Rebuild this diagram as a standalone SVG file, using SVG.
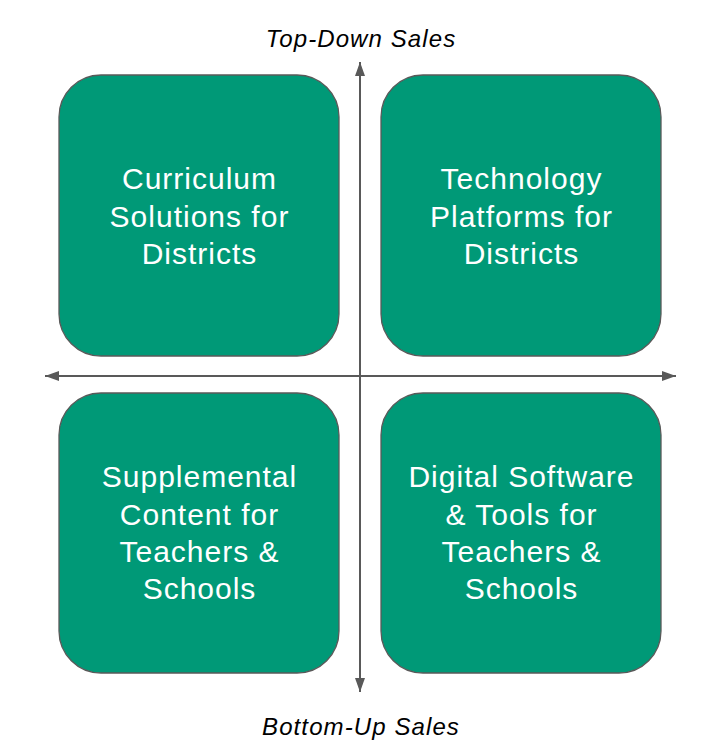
<svg xmlns="http://www.w3.org/2000/svg" width="721" height="753" viewBox="0 0 721 753">
<style>
.box{fill:#009977;stroke:#595959;stroke-width:1.3}
.t{font-family:"Liberation Sans",Arial,sans-serif;font-size:30px;letter-spacing:1px;fill:#ffffff;text-anchor:middle}
.ax{font-family:"Liberation Sans",Arial,sans-serif;font-size:24px;letter-spacing:1.1px;font-style:italic;fill:#000;text-anchor:middle}
.line{stroke:#595959;stroke-width:2;fill:none}
</style>
<defs>
<marker id="a" viewBox="0 0 14 10" refX="14" refY="5" markerWidth="14" markerHeight="10" markerUnits="userSpaceOnUse" orient="auto">
<path d="M0,0 L14,5 L0,10 z" fill="#595959"/>
</marker>
</defs>
<rect width="721" height="753" fill="#ffffff"/>
<g id="connectors">
<line class="line" x1="360" y1="376" x2="360" y2="62" marker-end="url(#a)"/>
<line class="line" x1="360" y1="376" x2="360" y2="692" marker-end="url(#a)"/>
<line class="line" x1="360" y1="376" x2="45" y2="376" marker-end="url(#a)"/>
<line class="line" x1="360" y1="376" x2="676" y2="376" marker-end="url(#a)"/>
</g>
<g id="node-tl">
<rect class="box" x="59" y="75" width="280" height="281" rx="42"/>
<text class="t"><tspan x="199.5" y="189">Curriculum</tspan><tspan x="199.5" y="227">Solutions for</tspan><tspan x="199.5" y="264">Districts</tspan></text>
</g>
<g id="node-tr">
<rect class="box" x="381" y="75" width="280" height="281" rx="42"/>
<text class="t"><tspan x="521.5" y="189">Technology</tspan><tspan x="521.5" y="227">Platforms for</tspan><tspan x="521.5" y="264">Districts</tspan></text>
</g>
<g id="node-bl">
<rect class="box" x="59" y="393" width="280" height="280" rx="42"/>
<text class="t"><tspan x="199.5" y="487">Supplemental</tspan><tspan x="199.5" y="525">Content for</tspan><tspan x="199.5" y="562">Teachers &amp;</tspan><tspan x="199.5" y="599">Schools</tspan></text>
</g>
<g id="node-br">
<rect class="box" x="381" y="393" width="280" height="280" rx="42"/>
<text class="t"><tspan x="521.5" y="487">Digital Software</tspan><tspan x="521.5" y="525">&amp; Tools for</tspan><tspan x="521.5" y="562">Teachers &amp;</tspan><tspan x="521.5" y="599">Schools</tspan></text>
</g>
<g id="label-top"><text class="ax" x="361" y="47">Top-Down Sales</text></g>
<g id="label-bottom"><text class="ax" x="361" y="735">Bottom-Up Sales</text></g>
</svg>
